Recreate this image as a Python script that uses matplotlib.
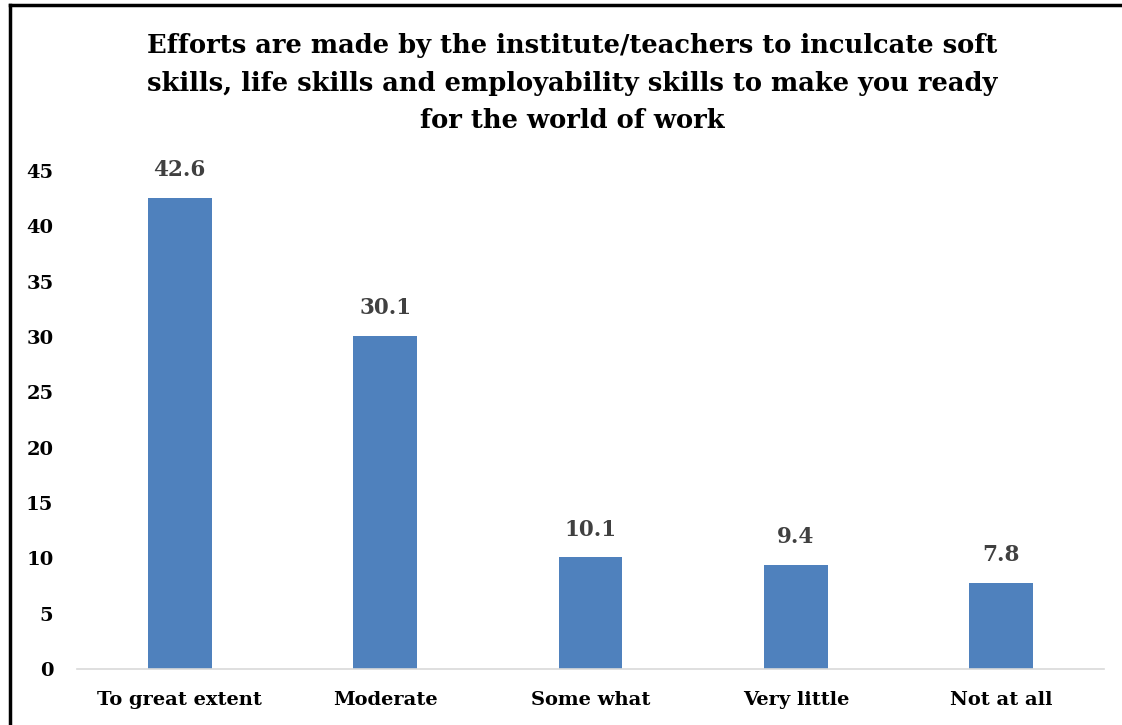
import matplotlib.pyplot as plt
from matplotlib.lines import Line2D

categories = ['To great extent', 'Moderate', 'Some what', 'Very little', 'Not at all']
values = [42.6, 30.1, 10.1, 9.4, 7.8]
yticks = [0, 5, 10, 15, 20, 25, 30, 35, 40, 45]
title = ('Efforts are made by the institute/teachers to inculcate soft\n'
         'skills, life skills and employability skills to make you ready\n'
         'for the world of work')

plt.rcParams['font.family'] = ['DejaVu Serif']
plt.rcParams['font.weight'] = 'bold'

fig = plt.figure(figsize=(11.22, 7.25), dpi=100)
W, H = 1122, 725
ax = fig.add_axes([77 / W, 1 - 669 / H, (1104 - 77) / W, (669 - 171) / H])

x = range(len(categories))
bars = ax.bar(x, values, width=0.31, color='#4F81BD')
ax.set_xlim(-0.5, len(categories) - 0.5)
ax.set_ylim(0, 45)
ax.set_yticks(yticks)
ax.set_xticks(list(x))
ax.set_xticklabels(categories, fontsize=14, fontweight='bold')
ax.tick_params(axis='y', labelsize=14, length=0, pad=17)
ax.tick_params(axis='x', length=0, pad=16)
for lbl in ax.get_yticklabels():
    lbl.set_fontweight('bold')

for s in ['top', 'right', 'left']:
    ax.spines[s].set_visible(False)
ax.spines['bottom'].set_color('#D9D9D9')
ax.spines['bottom'].set_linewidth(1.2)

for rect, v in zip(bars, values):
    ax.text(rect.get_x() + rect.get_width() / 2, v + 1.5, f'{v:.1f}',
            ha='center', va='bottom', fontsize=15.5, fontweight='bold', color='#404040')

fig.text(572 / W, 1 - 83 / H, title, ha='center', va='center',
         fontsize=18.5, fontweight='bold', linespacing=1.65)

# border of the chart frame
fig.add_artist(Line2D([10 / W, 10 / W], [0, 1 - 5 / H], color='black', lw=2.5))
fig.add_artist(Line2D([10 / W, 1], [1 - 5 / H, 1 - 5 / H], color='black', lw=2.5))

fig.savefig('out.png', dpi=100)
